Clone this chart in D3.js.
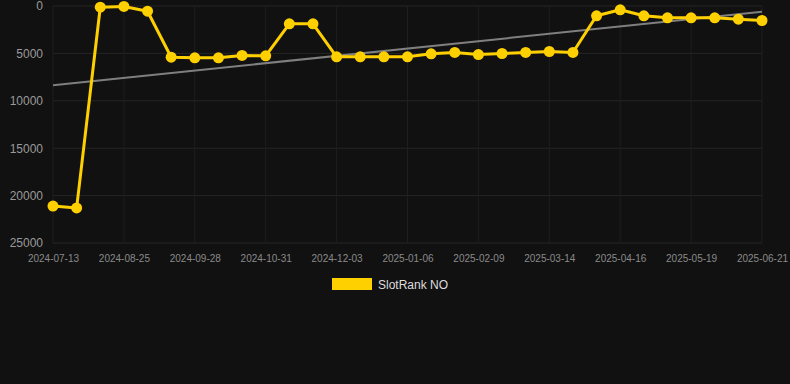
<!DOCTYPE html>
<html>
<head>
<meta charset="utf-8">
<script src="https://cdn.jsdelivr.net/npm/d3@7"></script>
<style>
  html, body { margin: 0; padding: 0; background: #111111; }
  svg { display: block; font-family: "Liberation Sans", Arial, sans-serif; }
</style>
</head>
<body>
<div id="container"></div>
<script>
var width = 790,
    height = 384,
    margin = { left: 53, top: 6, right: 28, bottom: 141 },
    g_width = width - margin.left - margin.right,
    g_height = height - margin.top - margin.bottom;

// data
var dates = ["2024-07-13","2024-07-27","2024-08-10","2024-08-25","2024-09-05","2024-09-16",
             "2024-09-28","2024-10-09","2024-10-20","2024-10-31","2024-11-11","2024-11-22",
             "2024-12-03","2024-12-14","2024-12-25","2025-01-06","2025-01-17","2025-01-28",
             "2025-02-09","2025-02-20","2025-03-03","2025-03-14","2025-03-25","2025-04-05",
             "2025-04-16","2025-04-27","2025-05-08","2025-05-19","2025-05-30","2025-06-10",
             "2025-06-21"];
var ranks = [21100, 21300, 130, 50, 550, 5400, 5470, 5470, 5220, 5250, 1880, 1880,
             5360, 5360, 5360, 5360, 5040, 4900, 5120, 5010, 4900, 4800, 4900,
             1030, 400, 1030, 1250, 1250, 1250, 1390, 1530];
var y_ticks = [0, 5000, 10000, 15000, 20000, 25000];
var x_tick_labels = dates.filter(function(d, i) { return i % 3 === 0; });
var series_name = "SlotRank NO";

var svg = d3.select("#container")
            .append("svg")
            .attr("width", width)
            .attr("height", height);

svg.append("rect").attr("width", width).attr("height", height).attr("fill", "#111111");

var g = svg.append("g")
           .attr("transform", "translate(" + margin.left + "," + margin.top + ")");

var scale_x = d3.scalePoint()
                .domain(dates)
                .range([0, g_width]);

var scale_y = d3.scaleLinear()
                .domain([0, 25000])
                .range([0, g_height]); // reversed: rank 0 on top

// grid
g.append("g").selectAll("line")
  .data(y_ticks).enter().append("line")
  .attr("x1", 0).attr("x2", g_width)
  .attr("y1", function(d) { return scale_y(d); })
  .attr("y2", function(d) { return scale_y(d); })
  .attr("stroke", "#262626").attr("stroke-width", 1);

g.append("g").selectAll("line")
  .data(x_tick_labels).enter().append("line")
  .attr("x1", function(d) { return scale_x(d); })
  .attr("x2", function(d) { return scale_x(d); })
  .attr("y1", 0).attr("y2", g_height)
  .attr("stroke", "#1e1e1e").attr("stroke-width", 1);

// axes
var x_axis = d3.axisBottom(scale_x).tickValues(x_tick_labels).tickSize(0).tickPadding(12),
    y_axis = d3.axisLeft(scale_y).tickValues(y_ticks).tickSize(0).tickPadding(10)
               .tickFormat(function(d) { return d; });

var gx = g.append("g")
          .attr("transform", "translate(0," + g_height + ")")
          .call(x_axis);
gx.select(".domain").remove();
gx.selectAll("text").attr("fill", "#8a8a8a").style("font-size", "10px")
  .style("font-family", "Liberation Sans, Arial, sans-serif");

var gy = g.append("g").call(y_axis);
gy.select(".domain").remove();
gy.selectAll("text").attr("fill", "#9a9a9a").style("font-size", "12px")
  .style("font-family", "Liberation Sans, Arial, sans-serif");

// trend line (least squares)
var n = ranks.length,
    mx = d3.mean(ranks, function(d, i) { return i; }),
    my = d3.mean(ranks),
    sxy = d3.sum(ranks, function(d, i) { return (i - mx) * (d - my); }),
    sxx = d3.sum(ranks, function(d, i) { return (i - mx) * (i - mx); }),
    slope = sxy / sxx,
    icpt = my - slope * mx;

g.append("line")
  .attr("x1", scale_x(dates[0]))
  .attr("y1", scale_y(icpt))
  .attr("x2", scale_x(dates[n - 1]))
  .attr("y2", scale_y(icpt + slope * (n - 1)))
  .attr("stroke", "#7f7f7f")
  .attr("stroke-width", 2);

// series
var line_generator = d3.line()
  .x(function(d, i) { return scale_x(dates[i]); })
  .y(function(d) { return scale_y(d); });

g.append("path")
  .attr("d", line_generator(ranks))
  .attr("fill", "none")
  .attr("stroke", "#ffd000")
  .attr("stroke-width", 3)
  .attr("stroke-linejoin", "round");

g.selectAll(".dot")
  .data(ranks).enter().append("circle")
  .attr("class", "dot")
  .attr("cx", function(d, i) { return scale_x(dates[i]); })
  .attr("cy", function(d) { return scale_y(d); })
  .attr("r", 5.5)
  .attr("fill", "#ffd000");

// legend
var legend = svg.append("g").attr("transform", "translate(332,278)");
legend.append("rect").attr("width", 40).attr("height", 12).attr("fill", "#ffd000");
legend.append("text")
  .attr("x", 46).attr("y", 10.5)
  .attr("fill", "#dddddd")
  .style("font-size", "12px")
  .text(series_name);
</script>
</body>
</html>
